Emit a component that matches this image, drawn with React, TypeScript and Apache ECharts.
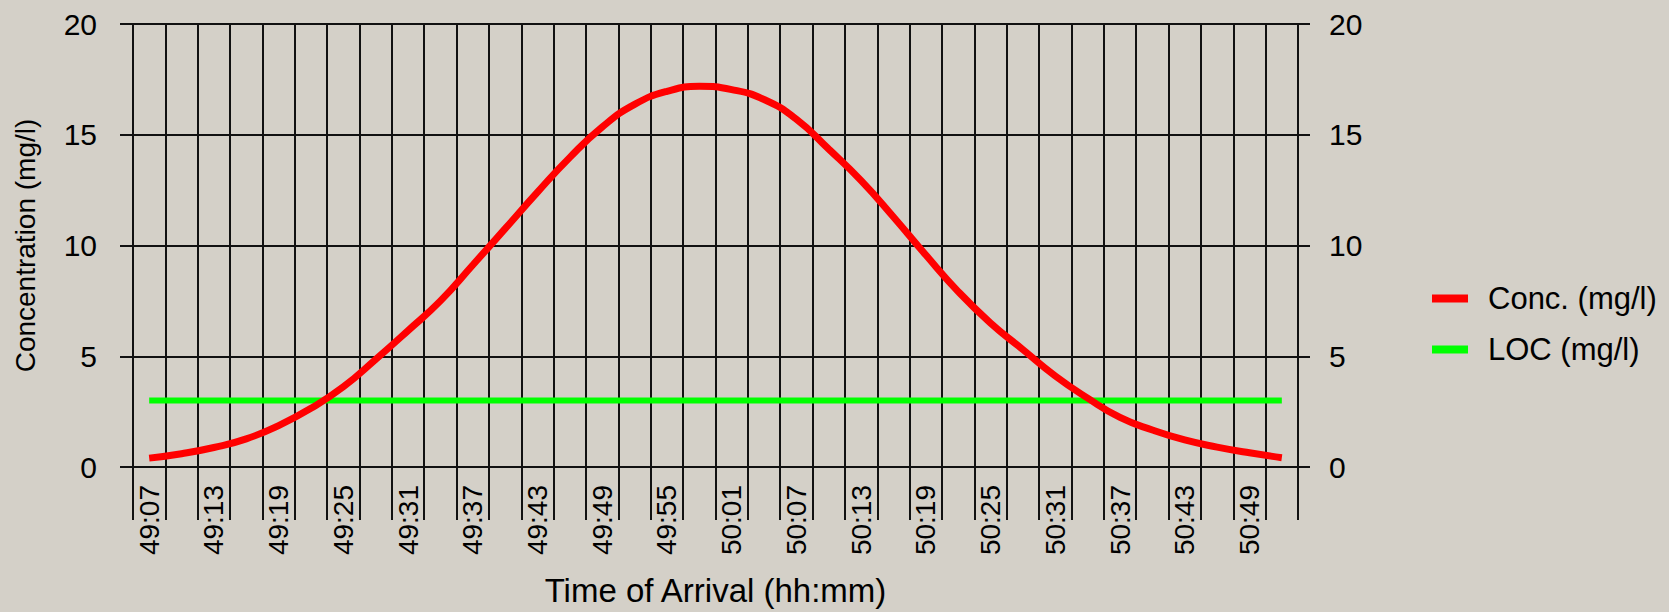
import React, { useEffect, useRef } from "react";
import * as echarts from "echarts";

const categories = [
  "49:07", "49:10", "49:13", "49:16", "49:19", "49:22", "49:25", "49:28", "49:31",
  "49:34", "49:37", "49:40", "49:43", "49:46", "49:49", "49:52", "49:55", "49:58",
  "50:01", "50:04", "50:07", "50:10", "50:13", "50:16", "50:19", "50:22", "50:25",
  "50:28", "50:31", "50:34", "50:37", "50:40", "50:43", "50:46", "50:49", "50:52",
];

const concValues = [
  0.4, 0.6, 0.88, 1.27, 1.87, 2.65, 3.62, 4.86, 6.16,
  7.5, 9.12, 10.76, 12.41, 13.98, 15.35, 16.37, 16.96, 17.19,
  17.04, 16.59, 15.7, 14.35, 12.93, 11.29, 9.57, 7.92, 6.5,
  5.3, 4.11, 3.11, 2.24, 1.67, 1.22, 0.9, 0.64, 0.42,
];

const locValues = categories.map(() => 3);

const seriesNames = ["Conc. (mg/l)", "LOC (mg/l)"];
const seriesColors = ["#ff0000", "#00ff00"];

const FONT = "'Liberation Sans', Arial, sans-serif";

export default function App() {
  const ref = useRef<HTMLDivElement>(null);

  useEffect(() => {
    if (!ref.current) return;
    const chart = echarts.init(ref.current, undefined, { renderer: "svg" });
    const black = "#111";
    chart.setOption({
      animation: false,
      backgroundColor: "#d4d0c8",
      textStyle: { fontFamily: FONT, color: "#000" },
      grid: { left: 133, right: 371, top: 24, bottom: 142, containLabel: false },
      legend: {
        orient: "vertical",
        left: 1427,
        top: 278,
        itemWidth: 36,
        itemHeight: 8,
        itemGap: 20,
        textStyle: {
          fontFamily: FONT,
          fontSize: 31,
          color: "#000",
          lineHeight: 30,
          padding: [0, 0, 0, 15],
        },
        data: [
          { name: seriesNames[0], icon: "rect", itemStyle: { color: seriesColors[0] } },
          { name: seriesNames[1], icon: "rect", itemStyle: { color: seriesColors[1] } },
        ],
      },
      xAxis: {
        type: "category",
        data: categories,
        boundaryGap: true,
        name: "Time of Arrival (hh:mm)",
        nameLocation: "middle",
        nameGap: 107,
        nameTextStyle: { fontFamily: FONT, fontSize: 33, color: "#000" },
        axisLine: { show: true, lineStyle: { color: black, width: 2 } },
        axisTick: {
          show: true,
          interval: 0,
          length: 53,
          alignWithLabel: false,
          lineStyle: { color: black, width: 2 },
        },
        axisLabel: {
          interval: 1,
          rotate: 90,
          margin: 18,
          fontFamily: FONT,
          fontSize: 28,
          color: "#000",
        },
        splitLine: { show: true, interval: 0, lineStyle: { color: black, width: 2 } },
      },
      yAxis: [
        {
          type: "value",
          min: 0,
          max: 20,
          interval: 5,
          position: "left",
          name: "Concentration (mg/l)",
          nameLocation: "middle",
          nameGap: 94,
          nameTextStyle: { fontFamily: FONT, fontSize: 28, color: "#000" },
          axisLine: { show: true, lineStyle: { color: black, width: 2 } },
          axisTick: { show: true, length: 13, lineStyle: { color: black, width: 2 } },
          axisLabel: { margin: 36, fontFamily: FONT, fontSize: 30, color: "#000" },
          splitLine: { show: true, lineStyle: { color: black, width: 2 } },
        },
        {
          type: "value",
          min: 0,
          max: 20,
          interval: 5,
          position: "right",
          axisLine: { show: true, lineStyle: { color: black, width: 2 } },
          axisTick: { show: true, length: 12, lineStyle: { color: black, width: 2 } },
          axisLabel: { margin: 31, fontFamily: FONT, fontSize: 30, color: "#000" },
          splitLine: { show: false },
        },
      ],
      series: [
        {
          name: seriesNames[1],
          type: "line",
          data: locValues,
          showSymbol: false,
          lineStyle: { color: seriesColors[1], width: 6 },
          itemStyle: { color: seriesColors[1] },
          z: 3,
        },
        {
          name: seriesNames[0],
          type: "line",
          data: concValues,
          smooth: true,
          showSymbol: false,
          lineStyle: { color: seriesColors[0], width: 7, cap: "butt" },
          itemStyle: { color: seriesColors[0] },
          z: 4,
        },
      ],
    });
    return () => chart.dispose();
  }, []);

  return (
    <div
      ref={ref}
      style={{ position: "fixed", left: 0, top: 0, width: 1669, height: 612 }}
    />
  );
}
